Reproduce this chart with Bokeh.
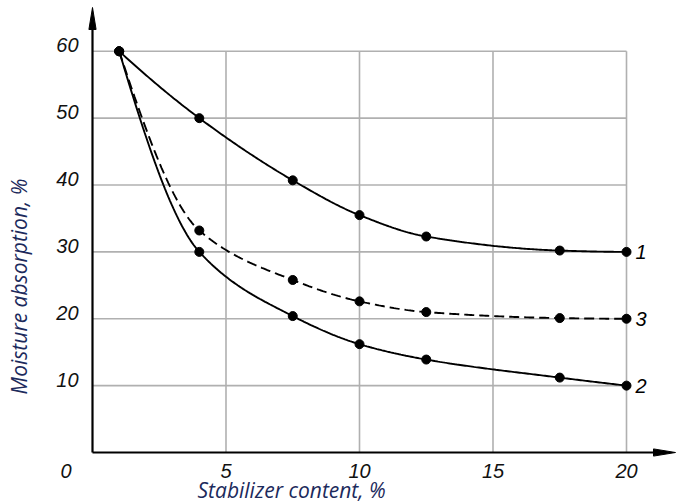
import numpy as np
from bokeh.plotting import figure
from bokeh.models import Range1d
from bokeh.core.properties import value
from bokeh.embed import file_html
from bokeh.resources import INLINE

# ---------------- data ----------------
stabilizer = [1, 4, 7.5, 10, 12.5, 17.5, 20]
curve1 = [60, 50, 40.7, 35.5, 32.3, 30.2, 30]
curve2 = [60, 30, 20.4, 16.2, 13.9, 11.2, 10]
curve3 = [60, 33.2, 25.8, 22.6, 21.0, 20.1, 20]
curve_names = ["1", "2", "3"]
x_ticks = [5, 10, 15, 20]
y_ticks = [10, 20, 30, 40, 50, 60]
origin_label = "0"
x_title = "Stabilizer content, %"
y_title = "Moisture absorption, %"

# ---------------- layout constants (pixels) ----------------
W, H = 676, 502
ORIG_X, ORIG_Y = 92, 452      # screen position of data origin
PX, PY = 26.7, 6.687           # pixels per data unit
x_range = Range1d(-ORIG_X / PX, (W - ORIG_X) / PX)
y_range = Range1d(-(H - ORIG_Y) / PY, ORIG_Y / PY)

TICK_FONT = value("Liberation Sans")
TITLE_FONT = value("Open Sans")
TITLE_COLOR = "#1c2a5c"


def pchip(xs, ys, xnew):
    x = np.asarray(xs, float)
    y = np.asarray(ys, float)
    h = np.diff(x)
    d = np.diff(y) / h
    n = len(x)
    m = np.zeros(n)
    for k in range(1, n - 1):
        if d[k - 1] * d[k] <= 0:
            m[k] = 0.0
        else:
            w1 = 2 * h[k] + h[k - 1]
            w2 = h[k] + 2 * h[k - 1]
            m[k] = (w1 + w2) / (w1 / d[k - 1] + w2 / d[k])

    def end(h0, h1, d0, d1):
        s = ((2 * h0 + h1) * d0 - h0 * d1) / (h0 + h1)
        if np.sign(s) != np.sign(d0):
            return 0.0
        if np.sign(d0) != np.sign(d1) and abs(s) > abs(3 * d0):
            return 3 * d0
        return s

    m[0] = end(h[0], h[1], d[0], d[1])
    m[-1] = end(h[-1], h[-2], d[-1], d[-2])
    out = np.empty_like(xnew)
    for i, xv in enumerate(xnew):
        k = min(max(np.searchsorted(x, xv) - 1, 0), n - 2)
        t = (xv - x[k]) / h[k]
        h00 = 2 * t**3 - 3 * t**2 + 1
        h10 = t**3 - 2 * t**2 + t
        h01 = -2 * t**3 + 3 * t**2
        h11 = t**3 - t**2
        out[i] = h00 * y[k] + h10 * h[k] * m[k] + h01 * y[k + 1] + h11 * h[k] * m[k + 1]
    return out


p = figure(width=W, height=H, x_range=x_range, y_range=y_range,
           output_backend="svg", toolbar_location=None,
           min_border_left=0, min_border_right=0, min_border_top=0, min_border_bottom=0)
p.axis.visible = False
p.grid.visible = False
p.outline_line_color = None
p.background_fill_color = "white"
p.border_fill_color = "white"

# ---------------- grid ----------------
x_last, y_last = x_ticks[-1], y_ticks[-1]
p.segment(x0=[0] * len(y_ticks), y0=y_ticks, x1=[x_last] * len(y_ticks), y1=y_ticks,
          line_color="#b0b0b0", line_width=1.6)
p.segment(x0=x_ticks, y0=[0] * len(x_ticks), x1=x_ticks, y1=[y_last] * len(x_ticks),
          line_color="#b0b0b0", line_width=1.6)

# ---------------- axes with arrows ----------------
x_tip = (W - 1 - ORIG_X) / PX
y_tip = (ORIG_Y - 7) / PY
head_len, head_half = 22, 3.6
p.segment(x0=[0, 0], y0=[0, 0], x1=[x_tip - head_len / PX, 0], y1=[0, y_tip - head_len / PY],
          line_color="black", line_width=2.2)
p.patches(xs=[[x_tip, x_tip - head_len / PX, x_tip - head_len / PX],
              [0, -head_half / PX, head_half / PX]],
          ys=[[0, head_half / PY, -head_half / PY],
              [y_tip, y_tip - head_len / PY, y_tip - head_len / PY]],
          fill_color="black", line_color="black", line_width=1)

# ---------------- curves ----------------
xs_fine = np.linspace(stabilizer[0], stabilizer[-1], 300)
for ys, dash in ((curve1, "solid"), (curve2, "solid"), (curve3, "10 5")):
    p.line(xs_fine, pchip(stabilizer, ys, xs_fine), line_color="black",
           line_width=1.9, line_dash=dash)
    p.scatter(stabilizer, ys, size=9, marker="circle", fill_color="black", line_color="black")

# curve numbers at the right ends
p.text(x=[stabilizer[-1]] * 3, y=[curve1[-1], curve2[-1], curve3[-1]], text=curve_names,
       x_offset=9, y_offset=0, text_align="left", text_baseline="alphabetic",
       text_font=TICK_FONT, text_font_style="italic", text_font_size="20px", text_color="black")

# ---------------- tick labels ----------------
p.text(x=x_ticks, y=[0] * len(x_ticks), text=[str(t) for t in x_ticks],
       y_offset=18, text_align="center", text_baseline="alphabetic",
       text_font=TICK_FONT, text_font_style="italic", text_font_size="20px", text_color="#111111")
p.text(x=[0] * len(y_ticks), y=y_ticks, text=[str(t) for t in y_ticks],
       x_offset=-14, y_offset=-6, text_align="right", text_baseline="alphabetic",
       text_font=TICK_FONT, text_font_style="italic", text_font_size="20px", text_color="#111111")
p.text(x=[0], y=[0], text=[origin_label], x_offset=-21, y_offset=18,
       text_align="right", text_baseline="alphabetic",
       text_font=TICK_FONT, text_font_style="italic", text_font_size="20px", text_color="#111111")

# ---------------- axis titles ----------------
p.text(x=[0], y=[0], text=[x_title], x_offset=105, y_offset=37,
       text_align="left", text_baseline="alphabetic",
       text_font=TITLE_FONT, text_font_style="italic", text_font_size="21px", text_color=TITLE_COLOR)
p.text(x=[0], y=[0], text=[y_title], x_offset=-74, y_offset=-166, angle=np.pi / 2,
       text_align="center", text_baseline="middle",
       text_font=TITLE_FONT, text_font_style="italic", text_font_size="21px", text_color=TITLE_COLOR)

open("out.html", "w").write(file_html(p, INLINE))
